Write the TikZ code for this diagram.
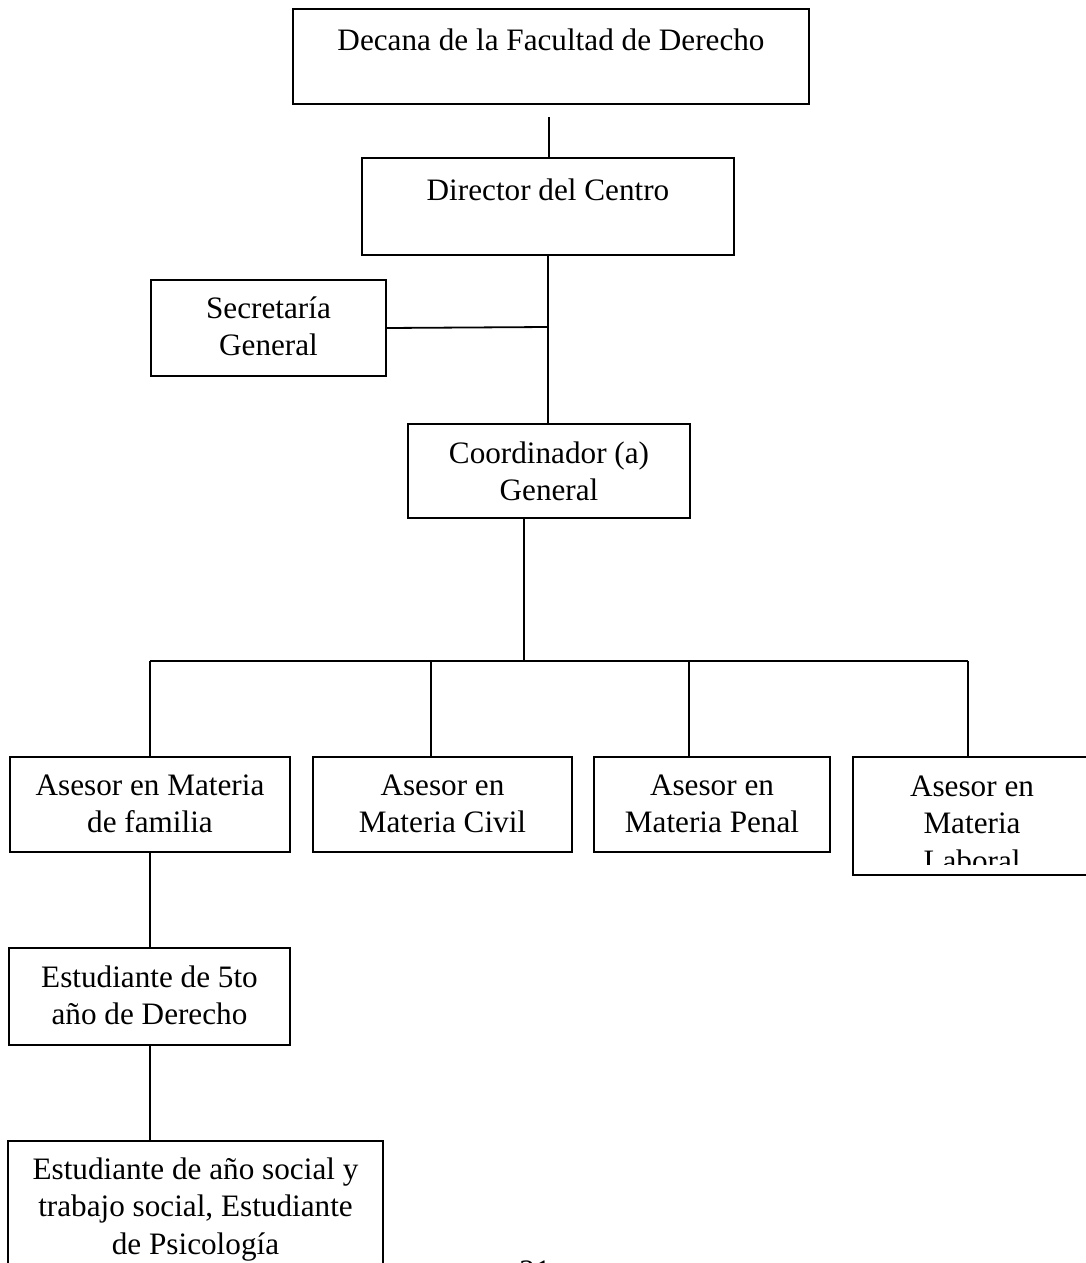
\documentclass[tikz,border=0pt]{standalone}
\usepackage{fontspec}
\setmainfont{Liberation Serif}
\begin{document}
\begin{tikzpicture}[x=1pt,y=-1pt,
  box/.style={draw=black, line width=1.8pt, inner sep=0pt, rectangle},
  txt/.style={inner sep=0pt, align=center, anchor=north, font=\fontsize{31.2}{37.5}\selectfont},
  con/.style={draw=black, line width=1.8pt}]
\clip (0,0) rectangle (1086,1263);
\useasboundingbox (0,0) rectangle (1086,1263);
% boxes
\node[box, minimum width=516pt, minimum height=95pt] (dec) at (551,56.5) {};
\node[box, minimum width=372pt, minimum height=97pt] (dir) at (548,206.5) {};
\node[box, minimum width=235pt, minimum height=96pt] (sec) at (268.5,328) {};
\node[box, minimum width=282pt, minimum height=94pt] (coo) at (549,471) {};
\node[box, minimum width=280pt, minimum height=95pt] (fam) at (150,804.5) {};
\node[box, minimum width=259pt, minimum height=95pt] (civ) at (442.5,804.5) {};
\node[box, minimum width=236pt, minimum height=95pt] (pen) at (712,804.5) {};
\node[box, minimum width=236pt, minimum height=118pt] (lab) at (971,816) {};
\node[box, minimum width=281pt, minimum height=97pt] (est) at (149.5,996.5) {};
\node[box, minimum width=375pt, minimum height=160pt] (soc) at (195.5,1221) {};
% texts
\node[txt] (dect) at (551,23.75) {\strut Decana de la Facultad de Derecho};
\node[txt] (dirt) at (548,173.75) {\strut Director del Centro};
\node[txt] (sect) at (268.5,291.75) {\strut Secretaría\\\strut General};
\node[txt] (coot) at (549,436.75) {\strut Coordinador (a)\\\strut General};
\node[txt] (famt) at (150,768.75) {\strut Asesor en Materia\\\strut de familia};
\node[txt] (civt) at (442.5,768.75) {\strut Asesor en\\\strut Materia Civil};
\node[txt] (pent) at (712,768.75) {\strut Asesor en\\\strut Materia Penal};
\begin{scope}
\clip (853,757) rectangle (1092,864);
\node[txt] (labt) at (972,769.75) {\strut Asesor en\\\strut Materia\\\strut Laboral};
\end{scope}
\node[txt] (estt) at (149.5,960.75) {\strut Estudiante de 5to\\\strut año de Derecho};
\node[txt] (soct) at (195.5,1152.75) {\strut Estudiante de año social y\\\strut trabajo social, Estudiante\\\strut de Psicología};
\node[txt] (pg) at (535,1254.75) {\strut 21};
% connectors
\coordinate (top) at (549,117);
\coordinate (secj) at (548,327);
\coordinate (busc) at (524,661);
\coordinate (d1) at (150,661);
\coordinate (d2) at (431,661);
\coordinate (d3) at (689,661);
\coordinate (d4) at (968,661);
\draw[con] (top) -- (top |- dir.north);
\draw[con] (dir.south) -- (dir.south |- coo.north);
\draw[con] (sec.east) -- (secj);
\draw[con] (coo.south -| busc) -- (busc);
\draw[con] (d1) -- (d4);
\draw[con] (d1) -- (d1 |- fam.north);
\draw[con] (d2) -- (d2 |- civ.north);
\draw[con] (d3) -- (d3 |- pen.north);
\draw[con] (d4) -- (d4 |- lab.north);
\draw[con] (fam.south -| d1) -- (d1 |- est.north);
\draw[con] (est.south -| d1) -- (d1 |- soc.north);
\end{tikzpicture}
\end{document}
